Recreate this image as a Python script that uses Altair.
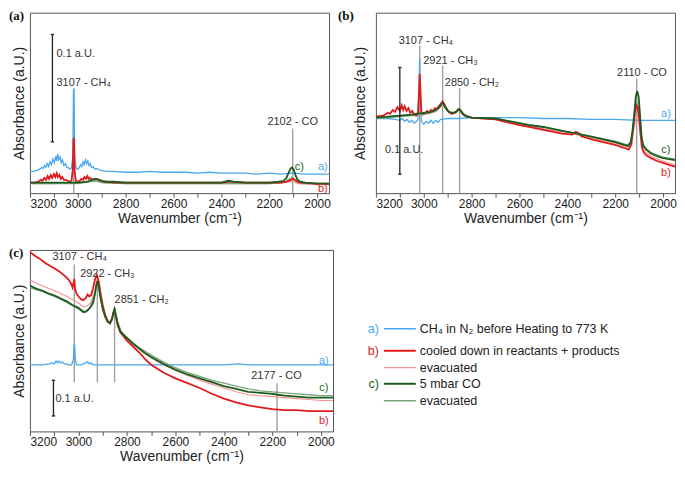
import altair as alt
import pandas as pd

# ---------------- colours ----------------
BLUE = "#4aa8f0"
RED = "#e3191c"
LRED = "#f4948f"
DGREEN = "#1e5b22"
LGREEN = "#7aa77a"
GRAY = "#a0a0a0"
TXT = "#333333"

WN_TICKS = list(range(3200, 1949, -100))

# ---------------- panel (a) : (wavenumber, absorbance in panel units) ----------------
A_CH4_N2 = [(3200,23),(3185,23),(3170,24),(3160,25),(3152,27),(3146,26),(3140,29),(3134,27),(3128,31),(3122,28),
            (3116,33),(3110,30),(3104,36),(3098,32),(3092,39),(3088,34),(3084,41),(3079,35),(3074,38),(3069,32),
            (3064,35),(3058,29),(3052,31),(3046,27),(3040,27),(3032,25),(3026,27),(3021,38),(3018,108),(3016,110),
            (3013,40),(3008,27),(3000,25),(2994,27),(2988,30),(2983,28),(2978,33),(2973,30),(2968,35),(2963,31),
            (2958,34),(2953,29),(2948,31),(2942,27),(2936,28),(2928,25),(2920,26),(2905,24),(2880,23),(2850,23),
            (2800,22),(2750,22),(2700,23),(2650,22),(2600,22),(2550,22),(2500,21),(2450,22),(2400,21),(2350,21),
            (2300,21),(2250,20),(2200,21),(2150,20),(2100,21),(2050,20),(2000,20),(1950,20)]
A_REACT = [(3200,11),(3180,11),(3165,12),(3155,14),(3148,13),(3140,16),(3133,14),(3126,18),(3120,15),(3113,19),
           (3107,16),(3100,20),(3094,17),(3088,21),(3083,17),(3077,19),(3071,15),(3065,17),(3058,14),(3050,14),
           (3042,13),(3034,12),(3026,13),(3021,25),(3018,56),(3016,58),(3013,22),(3008,13),(3000,12),(2992,13),
           (2985,15),(2978,14),(2972,17),(2966,15),(2960,18),(2954,15),(2948,16),(2940,14),(2930,15),(2920,15),
           (2905,13),(2880,12),(2850,11),(2800,11),(2700,11),(2600,11),(2500,11),(2400,11),(2360,12),(2300,11),
           (2200,11),(2150,11),(2125,12),(2110,14),(2100,15),(2090,13),(2070,11),(2000,10),(1950,10)]
A_REACT_EVAC = [(3200,10),(3100,10),(3000,11),(2930,13),(2900,11),(2800,10),(2600,10),(2400,10),(2200,10),
                (2110,12),(2100,12),(2080,10),(2000,9),(1950,9)]
A_CO = [(3200,11),(3100,11),(3050,11),(3000,11),(2960,12),(2940,14),(2925,15),(2910,14),(2890,12),(2850,12),
        (2800,11),(2700,11),(2600,11),(2500,11),(2400,11),(2370,13),(2350,12),(2300,11),(2200,11),(2160,12),
        (2140,13),(2128,16),(2118,22),(2110,26),(2104,27),(2098,25),(2090,19),(2082,14),(2070,12),(2050,11),
        (2000,10),(1950,10)]
A_CO_EVAC = [(3200,10),(3000,10),(2925,13),(2900,11),(2800,10),(2600,10),(2400,10),(2200,10),(2140,11),
             (2115,15),(2105,17),(2095,15),(2080,11),(2000,10),(1950,10)]

A_RULES = [(3017, 0, 110), (2102, 0, 68)]
A_TEXT_LEFT = [(3089, 116, "3107 - CH₄"), (3089, 146, "0.1 a.U.")]
A_TEXT_CENTER = [(2102, 75, "2102 - CO")]
A_BAR = (3106, 54, 167)
A_SERIES_LABELS = [(1976, 28, "a)", BLUE), (2074, 28, "c)", DGREEN), (1976, 4, "b)", RED)]

# ---------------- panel (b) ----------------
B_CH4_N2 = [(3200,79),(3150,79),(3120,78),(3100,77),(3090,79),(3080,76),(3070,78),(3060,75),(3050,77),(3040,74),
            (3030,76),(3024,78),(3020,110),(3017,143),(3014,100),(3010,76),(3000,73),(2990,76),(2980,74),(2970,77),
            (2960,74),(2950,77),(2940,75),(2930,78),(2920,78),(2900,79),(2850,79),(2800,80),(2700,80),(2600,80),
            (2500,79),(2400,79),(2300,78),(2200,78),(2100,77),(2000,77),(1950,77)]
B_REACT = [(3200,81),(3170,82),(3150,85),(3140,84),(3130,88),(3120,86),(3110,91),(3100,87),(3092,93),(3086,88),
           (3080,92),(3072,87),(3064,90),(3056,85),(3048,87),(3040,83),(3032,82),(3024,86),(3020,105),(3017,126),
           (3014,110),(3010,85),(3002,84),(2994,85),(2986,87),(2978,85),(2970,88),(2962,87),(2954,90),(2946,89),
           (2938,92),(2930,94),(2921,97),(2912,93),(2900,87),(2885,84),(2870,85),(2858,88),(2850,89),(2842,86),
           (2830,82),(2800,80),(2750,79),(2700,78),(2650,75),(2600,72),(2560,70),(2500,67),(2422,63),(2380,62),
           (2365,65),(2355,64),(2340,60),(2286,56),(2250,54),(2200,51),(2163,48),(2143,46),(2132,52),(2125,68),
           (2118,85),(2112,93),(2106,91),(2100,80),(2094,62),(2088,48),(2080,43),(2070,40),(2050,37),(2025,34),
           (2000,32),(1975,30),(1950,28)]
B_REACT_EVAC = [(3200,80),(3100,82),(3000,83),(2950,86),(2921,93),(2900,87),(2880,84),(2850,88),(2830,83),
                (2800,80),(2700,78),(2600,73),(2500,68),(2400,64),(2300,58),(2200,53),(2150,49),(2135,52),
                (2125,64),(2115,78),(2108,82),(2100,75),(2092,58),(2085,48),(2070,43),(2050,39),(2000,34),
                (1950,30)]
B_CO = [(3200,80),(3150,81),(3100,82),(3050,83),(3000,85),(2970,86),(2950,88),(2935,91),(2925,95),(2918,95),
        (2908,90),(2895,86),(2880,85),(2865,86),(2855,89),(2848,88),(2838,84),(2820,81),(2800,80),(2700,79),
        (2600,74),(2560,72),(2500,70),(2422,66),(2360,63),(2340,62),(2286,59),(2200,54),(2163,51),(2145,50),
        (2135,54),(2128,65),(2120,85),(2114,102),(2108,108),(2102,102),(2096,82),(2090,60),(2083,50),(2070,46),
        (2050,42),(2025,39),(2000,37),(1975,36),(1950,35)]
B_CO_EVAC = [(3200,79),(3100,81),(3000,83),(2950,87),(2921,94),(2900,87),(2880,84),(2850,88),(2830,83),
             (2800,80),(2700,79),(2600,74),(2500,70),(2400,65),(2300,60),(2200,55),(2150,51),(2135,54),
             (2125,68),(2115,88),(2108,95),(2100,88),(2092,64),(2085,52),(2070,47),(2050,43),(2000,38),
             (1950,36)]

B_RULES = [(3017, 0, 156), (2921, 0, 135), (2850, 0, 111), (2110, 0, 121)]
B_TEXT_LEFT = [(3105, 161, "3107 - CH₄"), (3002, 140, "2921 - CH₃"), (2912, 117, "2850 - CH₂"),
               (2192, 127, "2110 - CO"), (3162, 46, "0.1 a.U.")]
B_TEXT_CENTER = []
B_BAR = (3100, 20, 133)
B_SERIES_LABELS = [(1988, 84, "a)", BLUE), (1988, 46, "c)", DGREEN), (1988, 21, "b)", RED)]

# ---------------- panel (c) ----------------
C_CH4_N2 = [(3200,69),(3150,69),(3120,70),(3110,71),(3100,70),(3092,73),(3086,71),(3080,73),(3074,71),(3066,72),
            (3058,70),(3050,70),(3040,69),(3028,69),(3021,74),(3018,89),(3016,91),(3013,75),(3008,69),(3000,69),
            (2990,69),(2980,70),(2970,71),(2962,72),(2955,70),(2948,71),(2940,69),(2900,69),(2800,69),(2700,69),
            (2600,69),(2500,69),(2400,69),(2340,70),(2300,69),(2200,69),(2100,69),(2000,69),(1950,69)]
C_REACT = [(3200,186),(3180,182),(3160,179),(3140,175),(3120,172),(3100,169),(3080,166),(3060,162),(3040,157),
           (3030,153),(3024,149),(3020,154),(3017,158),(3014,148),(3008,143),(3000,140),(2990,137),(2980,136),
           (2970,138),(2962,142),(2956,140),(2948,141),(2940,148),(2932,157),(2924,162),(2916,155),(2908,142),
           (2900,131),(2890,121),(2880,114),(2870,112),(2862,116),(2856,123),(2851,126),(2845,118),(2838,110),
           (2828,103),(2815,99),(2800,94),(2775,88),(2750,82),(2725,75),(2700,69),(2650,61),(2600,55),(2550,50),
           (2500,45),(2450,39),(2400,34),(2350,30),(2300,27),(2250,25),(2200,23),(2150,22),(2100,22),(2050,21),
           (2000,21),(1950,21)]
C_REACT_EVAC = [(3200,157),(3150,151),(3100,146),(3050,140),(3000,133),(2980,129),(2965,130),(2950,133),
                (2935,143),(2922,158),(2910,143),(2900,129),(2885,118),(2870,113),(2858,120),(2851,127),
                (2840,115),(2825,104),(2800,96),(2750,85),(2700,76),(2650,69),(2600,63),(2550,58),(2500,53),
                (2450,49),(2400,45),(2350,41),(2300,38),(2250,37),(2200,36),(2150,35),(2100,34),(2050,33),
                (2000,32),(1950,32)]
C_CO = [(3200,151),(3175,148),(3150,146),(3125,143),(3100,141),(3075,138),(3050,135),(3025,131),(3000,128),
        (2990,126),(2980,124),(2970,124),(2960,126),(2950,129),(2940,133),(2932,142),(2926,152),(2922,156),
        (2916,150),(2908,137),(2900,127),(2890,119),(2880,114),(2870,112),(2862,116),(2856,123),(2851,127),
        (2845,120),(2838,111),(2828,104),(2815,100),(2800,97),(2775,91),(2750,86),(2725,81),(2700,77),
        (2650,70),(2600,64),(2550,59),(2500,55),(2450,51),(2400,47),(2350,44),(2300,41),(2250,40),(2200,39),
        (2177,38),(2150,37),(2100,36),(2050,35),(2000,35),(1950,35)]
C_CO_EVAC = [(3200,149),(3150,145),(3100,140),(3050,134),(3000,127),(2980,123),(2965,125),(2950,129),
             (2935,140),(2922,154),(2910,140),(2900,127),(2885,117),(2870,112),(2858,120),(2851,126),
             (2840,115),(2825,104),(2800,97),(2750,87),(2700,79),(2650,72),(2600,66),(2550,61),(2500,57),
             (2450,53),(2400,50),(2350,47),(2300,44),(2250,42),(2200,41),(2150,40),(2100,39),(2050,38),
             (2000,37),(1950,37)]

C_RULES = [(3017, 51, 173), (2922, 51, 155), (2851, 51, 128), (2181, 0, 50)]
C_TEXT_LEFT = [(3107, 181, "3107 - CH₄"), (2993, 163, "2922 - CH₃"), (2851, 136, "2851 - CH₂"),
               (3095, 34, "0.1 a.U.")]
C_TEXT_CENTER = [(2183, 57, "2177 - CO")]
C_BAR = (3103, 16, 53)
C_SERIES_LABELS = [(1988, 73, "a)", BLUE), (1988, 45, "c)", DGREEN), (1988, 11, "b)", RED)]

# ---------------- legend ----------------
LEG_TAGS = ["a)", "b)", "", "c)", ""]
LEG_TEXT = ["CH₄ in N₂ before Heating to 773 K", "cooled down in reactants + products",
            "evacuated", "5 mbar CO", "evacuated"]
LEG_COLORS = [BLUE, RED, LRED, DGREEN, LGREEN]
LEG_WIDTHS = [1.5, 2.2, 1.2, 2.0, 1.6]
LEG_ROWS = [0, 1.3, 2.3, 3.25, 4.25]


def pairs_df(pairs):
    return pd.DataFrame(pairs, columns=["wn", "y"])


def panel(series, rules, text_left, text_center, bar, series_labels, tag, w, h, ymax, tpad):
    xs = alt.Scale(domain=[3200, 1950], nice=False, zero=False)
    ys = alt.Scale(domain=[0, ymax], nice=False, zero=False)
    xax = alt.Axis(values=WN_TICKS, format="d",
                   labelExpr="datum.value % 200 === 0 ? datum.label : ''",
                   title="Wavenumber (cm⁻¹)", grid=False, domain=False,
                   tickSize=4, labelPadding=1, titlePadding=2)
    yax = alt.Axis(title="Absorbance (a.U.)", labels=False, ticks=False, domain=False,
                   grid=False, titlePadding=tpad)

    def X(f="wn"):
        return alt.X(f"{f}:Q", scale=xs, axis=xax)

    def Y(f="y"):
        return alt.Y(f"{f}:Q", scale=ys, axis=yax)

    layers = []
    rd = pd.DataFrame(rules, columns=["wn", "y1", "y2"])
    layers.append(alt.Chart(rd).mark_rule(color=GRAY, strokeWidth=1.4)
                  .encode(x=X(), y=Y("y1"), y2="y2:Q"))

    for pairs, color, sw in series:
        layers.append(alt.Chart(pairs_df(pairs)).mark_line(color=color, strokeWidth=sw, clip=True)
                      .encode(x=X(), y=Y()))

    bwn, blo, bhi = bar
    bd = pd.DataFrame({"wn": [bwn], "y1": [blo], "y2": [bhi]})
    layers.append(alt.Chart(bd).mark_rule(color="#222", strokeWidth=1.3)
                  .encode(x=X(), y=Y("y1"), y2="y2:Q"))
    cd = pd.DataFrame({"x1": [bwn + 7, bwn + 7], "x2": [bwn - 7, bwn - 7], "y": [blo, bhi]})
    layers.append(alt.Chart(cd).mark_rule(color="#222", strokeWidth=1.3)
                  .encode(x=X("x1"), x2="x2:Q", y=Y()))

    if text_left:
        tl = pd.DataFrame(text_left, columns=["wn", "y", "t"])
        layers.append(alt.Chart(tl).mark_text(align="left", baseline="middle", fontSize=11, color=TXT)
                      .encode(x=X(), y=Y(), text="t:N"))
    if text_center:
        tc = pd.DataFrame(text_center, columns=["wn", "y", "t"])
        layers.append(alt.Chart(tc).mark_text(align="center", baseline="middle", fontSize=11, color=TXT)
                      .encode(x=X(), y=Y(), text="t:N"))

    sl = pd.DataFrame(series_labels, columns=["wn", "y", "t", "c"])
    layers.append(alt.Chart(sl).mark_text(align="center", baseline="middle", fontSize=11)
                  .encode(x=X(), y=Y(), text="t:N", color=alt.Color("c:N", scale=None)))

    layers.append(alt.Chart(pd.DataFrame({"k": [0]}))
                  .mark_text(text=tag, font="Liberation Serif", fontWeight="bold", fontSize=13,
                             align="left", baseline="top", color="#111")
                  .encode(x=alt.value(-21 if tag == "(a)" or tag == "(c)" else -38), y=alt.value(-3)))

    return alt.layer(*layers).properties(width=w, height=h)


def series_set(blue, red, lred, green, lgreen):
    return [(blue, BLUE, 1.3), (lred, LRED, 1.1), (lgreen, LGREEN, 1.3), (red, RED, 1.8), (green, DGREEN, 1.8)]


pa = panel(series_set(A_CH4_N2, A_REACT, A_REACT_EVAC, A_CO, A_CO_EVAC), A_RULES, A_TEXT_LEFT,
           A_TEXT_CENTER, A_BAR, A_SERIES_LABELS, "(a)", 300, 181, 190, 3)
pb = panel(series_set(B_CH4_N2, B_REACT, B_REACT_EVAC, B_CO, B_CO_EVAC), B_RULES, B_TEXT_LEFT,
           B_TEXT_CENTER, B_BAR, B_SERIES_LABELS, "(b)", 300, 181, 191, 8)
pc = panel(series_set(C_CH4_N2, C_REACT, C_REACT_EVAC, C_CO, C_CO_EVAC), C_RULES, C_TEXT_LEFT,
           C_TEXT_CENTER, C_BAR, C_SERIES_LABELS, "(c)", 304, 182, 188, 3)

# legend panel
leg = pd.DataFrame({"row": LEG_ROWS, "tag": LEG_TAGS, "text": LEG_TEXT, "c": LEG_COLORS,
                    "sw": LEG_WIDTHS, "x1": [39] * 5, "x2": [71] * 5, "xt": [75] * 5, "xl": [34] * 5})
lx = alt.Scale(domain=[0, 320], nice=False, zero=False)
ly = alt.Scale(domain=[-4.65, 6.06], nice=False, zero=False, reverse=True)
leg_lines = alt.Chart(leg).mark_rule().encode(
    x=alt.X("x1:Q", scale=lx, axis=None), x2="x2:Q",
    y=alt.Y("row:Q", scale=ly, axis=None),
    color=alt.Color("c:N", scale=None), strokeWidth=alt.StrokeWidth("sw:Q", scale=None))
leg_tags = alt.Chart(leg).mark_text(align="right", baseline="middle", fontSize=12.5).encode(
    x=alt.X("xl:Q", scale=lx, axis=None), y=alt.Y("row:Q", scale=ly, axis=None),
    text="tag:N", color=alt.Color("c:N", scale=None))
leg_text = alt.Chart(leg).mark_text(align="left", baseline="middle", fontSize=12.5, color="#222").encode(
    x=alt.X("xt:Q", scale=lx, axis=None), y=alt.Y("row:Q", scale=ly, axis=None), text="text:N")
legend = alt.layer(leg_lines, leg_tags, leg_text).properties(
    width=320, height=182, view=alt.ViewBackground(strokeOpacity=0))

top = alt.hconcat(pa, pb, spacing=6)
bottom = alt.hconcat(pc, legend, spacing=10)
chart = alt.vconcat(top, bottom, spacing=20).properties(
    padding={"left": 0, "top": 0, "right": 0, "bottom": 0}
).configure_view(stroke="#555555", strokeWidth=1).configure_axis(
    labelFont="Liberation Sans", titleFont="Liberation Sans", labelFontSize=12, titleFontSize=14,
    titleFontWeight="normal", labelColor="#222222", titleColor="#222222", tickColor="#555555"
).configure_text(font="Liberation Sans")

chart.save("out.html", embed_options={"renderer": "svg", "actions": False})
